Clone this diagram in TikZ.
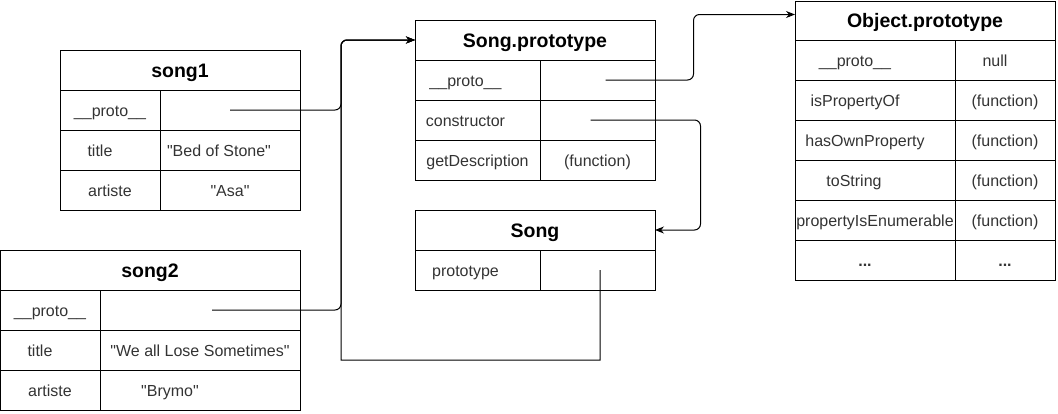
\documentclass[tikz,border=0pt]{standalone}
\usepackage{fontspec}
\setmainfont{Liberation Sans}
\newfontfamily\diagfont{Liberation Sans}
\usetikzlibrary{arrows.meta, positioning, calc}
\definecolor{celltext}{RGB}{51,51,51}
% move a cell text sideways by #1
\newcommand{\nudge}[2]{\hspace*{#1}\hspace*{#1}#2}

\begin{document}
\begin{tikzpicture}[x=1pt, y=-1pt, node distance=0pt, >={Stealth[length=9pt, width=7pt]}]
  \tikzstyle{head} = [rectangle, draw, line width=1pt, inner sep=0pt, outer sep=0pt, minimum height=40pt, text height=14pt, text depth=0pt, font=\diagfont\fontsize{19.5}{22}\selectfont\bfseries]
  \tikzstyle{cell} = [rectangle, draw, line width=1pt, inner sep=0pt, outer sep=0pt, minimum height=40pt, text height=13pt, text depth=0pt, font=\diagfont\fontsize{16}{18}\selectfont\color{celltext}]
  \tikzstyle{link} = [->, line width=1pt, rounded corners=6pt]

  \useasboundingbox (0,0) rectangle (1058,413);

  % song1
  \node [head, minimum width=240pt, anchor=north west] (s1t) at (60,50) {song1};
  \node [cell, minimum width=100pt, anchor=north west] (s1k1) at (s1t.south west) {\_\_proto\_\_};
  \node [cell, minimum width=140pt, right=of s1k1] (s1v1) {};
  \node [cell, minimum width=100pt, below=of s1k1] (s1k2) {\nudge{-10pt}{title}};
  \node [cell, minimum width=140pt, right=of s1k2] (s1v2) {\nudge{-11pt}{"Bed of Stone"}};
  \node [cell, minimum width=100pt, below=of s1k2] (s1k3) {artiste};
  \node [cell, minimum width=140pt, right=of s1k3] (s1v3) {"Asa"};

  % song2
  \node [head, minimum width=300pt, anchor=north west] (s2t) at (0,250) {song2};
  \node [cell, minimum width=100pt, anchor=north west] (s2k1) at (s2t.south west) {\_\_proto\_\_};
  \node [cell, minimum width=200pt, right=of s2k1] (s2v1) {};
  \node [cell, minimum width=100pt, below=of s2k1] (s2k2) {\nudge{-10pt}{title}};
  \node [cell, minimum width=200pt, right=of s2k2] (s2v2) {"We all Lose Sometimes"};
  \node [cell, minimum width=100pt, below=of s2k2] (s2k3) {artiste};
  \node [cell, minimum width=200pt, right=of s2k3] (s2v3) {\nudge{-30pt}{"Brymo"}};

  % Song.prototype
  \node [head, minimum width=240pt, anchor=north west] (spt) at (415,20) {Song.prototype};
  \node [cell, minimum width=125pt, anchor=north west] (spk1) at (spt.south west) {\nudge{-12pt}{\_\_proto\_\_}};
  \node [cell, minimum width=115pt, right=of spk1] (spv1) {};
  \node [cell, minimum width=125pt, below=of spk1] (spk2) {\nudge{-12pt}{constructor}};
  \node [cell, minimum width=115pt, right=of spk2] (spv2) {};
  \node [cell, minimum width=125pt, below=of spk2] (spk3) {getDescription};
  \node [cell, minimum width=115pt, right=of spk3] (spv3) {(function)};

  % Song
  \node [head, minimum width=240pt, anchor=north west] (sgt) at (415,210) {Song};
  \node [cell, minimum width=125pt, anchor=north west] (sgk1) at (sgt.south west) {\nudge{-12pt}{prototype}};
  \node [cell, minimum width=115pt, right=of sgk1] (sgv1) {};

  % Object.prototype
  \node [head, minimum width=260pt, minimum height=39pt, anchor=north west] (opt) at (795,1) {Object.prototype};
  \node [cell, minimum width=160pt, anchor=north west] (opk1) at (opt.south west) {\nudge{-20pt}{\_\_proto\_\_}};
  \node [cell, minimum width=100pt, right=of opk1] (opv1) {\nudge{-10pt}{null}};
  \node [cell, minimum width=160pt, below=of opk1] (opk2) {\nudge{-20pt}{isPropertyOf}};
  \node [cell, minimum width=100pt, right=of opk2] (opv2) {(function)};
  \node [cell, minimum width=160pt, below=of opk2] (opk3) {\nudge{-10pt}{hasOwnProperty}};
  \node [cell, minimum width=100pt, right=of opk3] (opv3) {(function)};
  \node [cell, minimum width=160pt, below=of opk3] (opk4) {\nudge{-21pt}{toString}};
  \node [cell, minimum width=100pt, right=of opk4] (opv4) {(function)};
  \node [cell, minimum width=160pt, below=of opk4] (opk5) {propertyIsEnumerable};
  \node [cell, minimum width=100pt, right=of opk5] (opv5) {(function)};
  \node [cell, minimum width=160pt, below=of opk5] (opk6) {\nudge{-10pt}{\textbf{...}}};
  \node [cell, minimum width=100pt, right=of opk6] (opv6) {\textbf{...}};

  % links
  \draw[link] (s1v1.center) -- ++(111,0) |- (spt.west);
  \draw[link] ([xshift=12pt]s2v1.center) -- ++(129,0) |- (spt.west);
  \draw[link] ([xshift=2.5pt]sgv1.center) [sharp corners] -- ++(0,90) -- ++(-259,0) [rounded corners=6pt] |- (spt.west);
  \draw[link] ([xshift=8pt]spv1.center) -- ++(88,0) |- ([yshift=6pt]opt.west);
  \draw[link] ([xshift=-7pt]spv2.center) -- ++(110,0) |- (sgt.east);
\end{tikzpicture}
\end{document}
